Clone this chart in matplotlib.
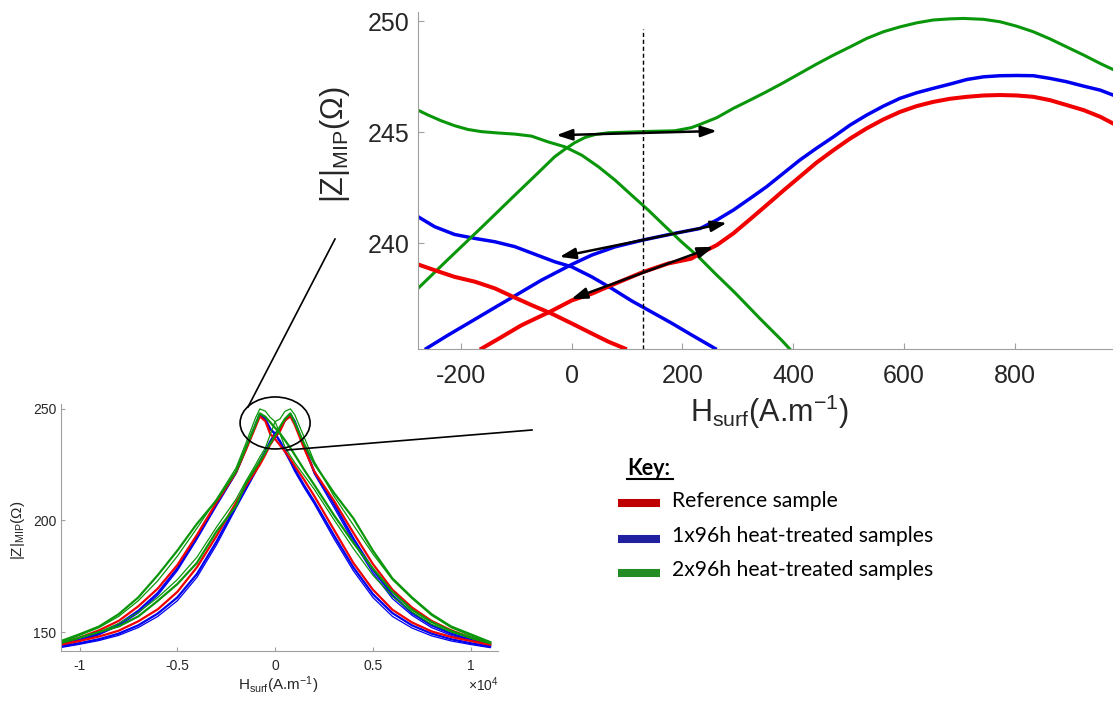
import matplotlib
matplotlib.use('Agg')
import matplotlib.pyplot as plt
from matplotlib.patches import Ellipse
from matplotlib.lines import Line2D

plt.rcParams['font.family'] = ['Liberation Sans', 'DejaVu Sans']
plt.rcParams['mathtext.fontset'] = 'custom'
plt.rcParams['mathtext.rm'] = 'Liberation Sans'
plt.rcParams['mathtext.it'] = 'Liberation Sans:italic'
plt.rcParams['mathtext.bf'] = 'Liberation Sans:bold'
plt.rcParams['axes.unicode_minus'] = False

# ---------------- data: full hysteresis (small panel), H in units of 1e4 A/m
SMALL_X = [-1.1, -1.0, -0.9, -0.8, -0.7, -0.6, -0.5, -0.4, -0.3, -0.2, -0.15, -0.1, -0.078,
           -0.05, -0.025, 0.0, 0.025, 0.05, 0.078, 0.1, 0.15, 0.2, 0.3, 0.4, 0.5, 0.6, 0.7,
           0.8, 0.9, 1.0, 1.1]
red_up = [144.3, 146.0, 148.0, 150.6, 154.8, 160.2, 168.0, 179.0, 193.0, 208.0, 215.5, 222.0,
          225.0, 229.5, 234.0, 237.3, 240.0, 244.8, 246.65, 243.0, 232.0, 222.0, 209.0, 194.5,
          180.5, 169.0, 161.0, 155.0, 150.8, 147.5, 145.0]
red_down = [145.0, 147.5, 150.8, 155.0, 161.5, 169.5, 180.0, 193.5, 208.0, 221.5, 231.5, 242.0,
            246.65, 244.5, 238.8, 236.5, 233.7, 231.0, 227.5, 224.5, 218.0, 211.0, 196.0, 181.0,
            169.0, 160.0, 154.3, 150.3, 147.8, 146.0, 144.3]
blue1_up = [143.5, 145.0, 146.8, 149.3, 153.0, 158.3, 165.5, 176.0, 190.5, 206.5, 214.5, 222.5,
            226.5, 231.0, 235.4, 239.05, 240.7, 245.0, 247.6, 244.5, 233.0, 222.0, 207.5, 192.0,
            178.0, 166.5, 158.5, 153.0, 149.3, 146.5, 144.3]
blue1_down = [144.3, 146.5, 149.3, 153.5, 159.5, 167.5, 178.5, 192.5, 207.5, 221.5, 232.0, 243.0,
              247.6, 245.5, 241.1, 238.9, 235.6, 231.5, 227.0, 223.0, 215.5, 208.5, 193.5, 179.0,
              167.0, 158.5, 153.0, 149.3, 146.8, 145.0, 143.5]
blue2_up = [143.0, 144.5, 146.2, 148.5, 152.0, 157.0, 164.0, 174.5, 189.0, 205.5, 213.5, 221.5,
            225.5, 230.0, 235.0, 238.5, 240.2, 244.5, 247.0, 244.0, 232.5, 221.0, 206.0, 190.5,
            176.5, 165.0, 157.5, 152.0, 148.5, 146.0, 144.0]
blue2_down = [144.0, 146.0, 148.8, 152.8, 158.5, 166.5, 177.5, 191.5, 206.5, 221.0, 231.5, 242.5,
              247.0, 245.0, 240.8, 238.5, 235.0, 230.5, 226.0, 222.0, 214.5, 207.5, 192.0, 177.5,
              165.5, 157.0, 151.8, 148.3, 146.0, 144.4, 143.0]
green1_up = [145.0, 147.3, 150.0, 153.8, 158.8, 165.5, 173.5, 183.5, 197.0, 209.5, 217.5, 225.0,
             228.5, 232.5, 238.5, 244.3, 245.5, 248.9, 250.0, 247.5, 237.0, 226.5, 211.0, 198.0,
             185.0, 173.5, 165.0, 157.5, 152.0, 148.3, 145.5]
green1_down = [145.5, 148.5, 152.0, 157.0, 164.0, 173.0, 184.0, 196.5, 209.5, 223.5, 234.5, 246.0,
               250.0, 249.0, 246.2, 244.3, 238.9, 233.0, 229.0, 226.0, 220.0, 214.0, 200.5, 187.5,
               175.5, 166.0, 159.0, 153.5, 150.0, 147.3, 145.0]
green2_up = [145.0, 147.5, 150.0, 152.5, 157.0, 164.0, 171.5, 181.0, 195.0, 206.5, 216.5, 223.5,
             226.5, 230.5, 234.5, 238.0, 242.0, 245.5, 248.0, 244.0, 234.0, 225.5, 212.5, 201.0,
             186.5, 174.0, 165.5, 158.0, 152.5, 149.0, 145.5]
green2_down = [145.8, 149.0, 152.5, 158.0, 165.5, 175.5, 186.5, 198.5, 209.0, 222.0, 232.5, 243.0,
               248.0, 246.5, 244.0, 241.5, 239.0, 236.0, 232.5, 229.5, 222.5, 216.0, 202.5, 190.0,
               178.5, 168.0, 160.0, 154.5, 150.5, 147.5, 145.0]

# ---------------- data: zoomed region (big panel), H in A/m
BIG_GREEN_UP_X = [-278, -224, -163, -103, -67, -31, -13, 5, 24, 42, 66, 102, 138, 186, 216,
                  232, 262, 292, 322, 352, 382, 412, 442, 473, 503, 533, 563, 593, 623, 653,
                  683, 708, 744, 774, 804, 834, 864, 894, 925, 955, 978]
BIG_GREEN_UP_Y = [237.96, 239.26, 240.71, 242.16, 243.02, 243.89, 244.22, 244.52, 244.76, 244.89,
                  244.97, 245.0, 245.03, 245.06, 245.2, 245.35, 245.65, 246.07, 246.44, 246.82,
                  247.22, 247.64, 248.06, 248.47, 248.84, 249.22, 249.52, 249.74, 249.92, 250.05,
                  250.1, 250.12, 250.08, 249.97, 249.77, 249.52, 249.2, 248.84, 248.47, 248.09,
                  247.82]
BIG_GREEN_DOWN_X = [-278, -260, -236, -212, -188, -163, -133, -103, -73, -43, -13, 18, 48, 78,
                    108, 138, 168, 198, 229, 259, 295, 340, 379, 395]
BIG_GREEN_DOWN_Y = [245.99, 245.77, 245.51, 245.29, 245.12, 245.02, 244.96, 244.91, 244.82,
                    244.56, 244.34, 243.96, 243.44, 242.84, 242.16, 241.49, 240.77, 240.06,
                    239.38, 238.63, 237.76, 236.6, 235.63, 235.2]
BIG_BLUE_UP_X = [-263, -224, -181, -139, -106, -55, 0, 36, 78, 129, 186, 232, 262, 292, 322, 352,
                 382, 412, 442, 473, 503, 533, 563, 593, 623, 653, 683, 714, 744, 774, 804, 834,
                 864, 894, 925, 955, 978]
BIG_BLUE_UP_Y = [235.25, 235.85, 236.48, 237.1, 237.58, 238.33, 239.04, 239.46, 239.83, 240.14,
                 240.44, 240.66, 241.04, 241.49, 242.01, 242.54, 243.14, 243.74, 244.27, 244.79,
                 245.32, 245.77, 246.17, 246.52, 246.77, 246.97, 247.16, 247.37, 247.49, 247.54,
                 247.55, 247.54, 247.42, 247.27, 247.07, 246.89, 246.67]
BIG_BLUE_DOWN_X = [-278, -248, -212, -175, -139, -103, -67, -31, 0, 36, 72, 108, 144, 180, 216, 259]
BIG_BLUE_DOWN_Y = [241.19, 240.74, 240.39, 240.21, 240.06, 239.84, 239.5, 239.16, 238.93, 238.48,
                   237.96, 237.4, 236.9, 236.4, 235.87, 235.25]
BIG_RED_UP_X = [-163, -127, -91, -37, 0, 36, 78, 129, 174, 216, 232, 262, 292, 322, 352, 382, 412,
                442, 473, 503, 533, 563, 593, 623, 653, 683, 714, 744, 774, 804, 834, 864, 894,
                925, 955, 978]
BIG_RED_UP_Y = [235.25, 235.77, 236.3, 236.94, 237.42, 237.72, 238.17, 238.7, 239.08, 239.3,
                239.54, 239.91, 240.44, 241.07, 241.71, 242.36, 242.99, 243.62, 244.19, 244.71,
                245.17, 245.57, 245.91, 246.17, 246.36, 246.5, 246.59, 246.65, 246.67, 246.65,
                246.59, 246.44, 246.22, 245.99, 245.69, 245.39]
BIG_RED_DOWN_X = [-278, -248, -212, -175, -139, -106, -73, -37, 0, 36, 66, 96]
BIG_RED_DOWN_Y = [239.04, 238.78, 238.48, 238.26, 237.96, 237.58, 237.21, 236.83, 236.38, 235.93,
                  235.56, 235.25]

ARROW_FROM = [(-28, 244.86), (-22, 239.38), (-1, 237.48)]
ARROW_TO = [(262, 245.05), (280, 240.91), (256, 239.83)]
DASH_X = 129
DASH_TOP = 249.63

BIG_XTICKS = [-200, 0, 200, 400, 600, 800]
BIG_YTICKS = [240, 245, 250]
SMALL_XTICKS = [-1, -0.5, 0, 0.5, 1]
SMALL_XTICKLABELS = ['-1', '-0.5', '0', '0.5', '1']
SMALL_YTICKS = [150, 200, 250]

KEY_LABELS = ['Reference sample', '1x96h heat-treated samples', '2x96h heat-treated samples']
KEY_COLORS = ['#c00000', '#2020a0', '#238c23']

RED, BLUE, GREEN = '#f00000', '#0000f0', '#0a960a'
AXC = '#a0a0a0'
TXC = '#262626'
XLABEL = 'H$_{\\mathrm{surf}}$(A.m$^{\\mathrm{-1}}$)'
YLABEL = '|Z|$_{\\mathrm{MIP}}$(\u03a9)'

W, H = 1113, 702
fig = plt.figure(figsize=(W / 100, H / 100), dpi=100)


def rect(x0, y0, x1, y1):
    return [x0 / W, 1 - y1 / H, (x1 - x0) / W, (y1 - y0) / H]


def fx(x):
    return x / W


def fy(y):
    return 1 - y / H


def style(ax, fs, padx, pady, tl):
    for s in ['top', 'right']:
        ax.spines[s].set_visible(False)
    for s in ['left', 'bottom']:
        ax.spines[s].set_color(AXC)
        ax.spines[s].set_linewidth(0.8)
    ax.tick_params(direction='in', length=tl, width=0.8, color=AXC,
                   labelcolor=TXC, labelsize=fs)
    ax.tick_params(axis='x', pad=padx)
    ax.tick_params(axis='y', pad=pady)


# ---------------- big (zoomed) panel
axb = fig.add_axes(rect(418, 12, 1113, 349))
axb.plot(BIG_BLUE_DOWN_X, BIG_BLUE_DOWN_Y, color=BLUE, lw=2.5)
axb.plot(BIG_BLUE_UP_X, BIG_BLUE_UP_Y, color=BLUE, lw=2.5)
axb.plot(BIG_GREEN_DOWN_X, BIG_GREEN_DOWN_Y, color=GREEN, lw=2.2)
axb.plot(BIG_GREEN_UP_X, BIG_GREEN_UP_Y, color=GREEN, lw=2.2)
axb.plot(BIG_RED_DOWN_X, BIG_RED_DOWN_Y, color=RED, lw=2.9)
axb.plot(BIG_RED_UP_X, BIG_RED_UP_Y, color=RED, lw=2.9)
axb.set_xlim(-278, 978)
axb.set_ylim(235.23, 250.41)
axb.plot([DASH_X, DASH_X], [235.23, DASH_TOP], color='k', lw=1.0, dashes=(3, 2))
for (x0, y0), (x1, y1) in zip(ARROW_FROM, ARROW_TO):
    axb.annotate('', xy=(x1, y1), xytext=(x0, y0),
                 arrowprops=dict(arrowstyle='<|-|>,head_length=0.95,head_width=0.33',
                                 mutation_scale=10, lw=1.8, color='k',
                                 shrinkA=0, shrinkB=0))
axb.set_xticks(BIG_XTICKS)
axb.set_yticks(BIG_YTICKS)
style(axb, 18, 11, 6, 4)
axb.set_xlabel(XLABEL, fontsize=22, color=TXC)
axb.xaxis.set_label_coords(fx(770), fy(422), transform=fig.transFigure)
axb.xaxis.label.set_va('baseline')
axb.set_ylabel(YLABEL, fontsize=22, color=TXC)
axb.yaxis.set_label_coords(fx(335), fy(145), transform=fig.transFigure)
axb.yaxis.label.set_va('center')

# ---------------- small (full) panel
axs = fig.add_axes(rect(61, 404, 498, 651))
axs.plot(SMALL_X, blue2_up, color=BLUE, lw=0.9)
axs.plot(SMALL_X, blue2_down, color=BLUE, lw=0.9)
axs.plot(SMALL_X, blue1_up, color=BLUE, lw=1.6)
axs.plot(SMALL_X, blue1_down, color=BLUE, lw=1.6)
axs.plot(SMALL_X, red_up, color=RED, lw=1.6)
axs.plot(SMALL_X, red_down, color=RED, lw=1.6)
axs.plot(SMALL_X, green2_up, color=GREEN, lw=1.6)
axs.plot(SMALL_X, green2_down, color=GREEN, lw=1.6)
axs.plot(SMALL_X, green1_up, color=GREEN, lw=0.9)
axs.plot(SMALL_X, green1_down, color=GREEN, lw=0.9)
axs.set_xlim(-1.095, 1.14)
axs.set_ylim(141.5, 252.2)
axs.set_xticks(SMALL_XTICKS)
axs.set_xticklabels(SMALL_XTICKLABELS)
axs.set_yticks(SMALL_YTICKS)
style(axs, 10, 6, 3.5, 3)
axs.set_xlabel(XLABEL, fontsize=11, color=TXC)
axs.xaxis.set_label_coords(fx(278), fy(690), transform=fig.transFigure)
axs.xaxis.label.set_va('baseline')
axs.set_ylabel(YLABEL, fontsize=11, color=TXC)
axs.yaxis.set_label_coords(fx(18), fy(530), transform=fig.transFigure)
axs.yaxis.label.set_va('center')
fig.text(fx(483), fy(691), r'$\times\mathrm{10^{4}}$', fontsize=10, color=TXC,
         ha='center', va='baseline')

# zoom ellipse and connector lines
axs.add_patch(Ellipse((0, 243.7), 0.358, 23.3, fill=False, ec='k', lw=1.2,
                      clip_on=False, zorder=5))
fig.add_artist(Line2D([fx(248), fx(335)], [fy(407), fy(239)], color='k', lw=1.2))
fig.add_artist(Line2D([fx(287), fx(532)], [fy(450), fy(430)], color='k', lw=1.2))

# ---------------- key
KEY_FONT = ['Lato', 'DejaVu Sans']
fig.text(fx(627), fy(475), 'Key:', fontsize=15.5, fontweight='bold', family=KEY_FONT,
         color='k', ha='left', va='baseline')
fig.add_artist(Line2D([fx(627), fx(673)], [fy(479), fy(479)], color='k', lw=1.5))
bar_y = [503, 539, 573]
txt_y = [507, 542, 576]
for lab, col, by, ty in zip(KEY_LABELS, KEY_COLORS, bar_y, txt_y):
    fig.add_artist(Line2D([fx(618), fx(660)], [fy(by), fy(by)], color=col, lw=5.8,
                          solid_capstyle='butt'))
    fig.text(fx(672), fy(ty), lab, fontsize=15.2, family=KEY_FONT, color='k',
             ha='left', va='baseline')

fig.savefig('out.png', dpi=100)
